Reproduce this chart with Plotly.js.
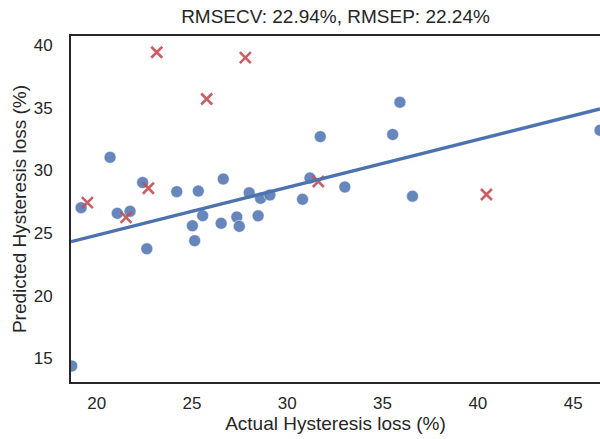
<!DOCTYPE html>
<html>
<head>
<meta charset="utf-8">
<script src="https://cdn.plot.ly/plotly-3.0.1.min.js"></script>
<style>html,body{margin:0;padding:0;background:#fff;}#chart{width:600px;height:439px;}</style>
</head>
<body>
<div id="chart"></div>
<script>
// Calibration (cross-validation) points: actual vs predicted hysteresis loss (%)
const calActual = [18.69, 19.18, 20.70, 21.08, 21.75, 22.41, 22.63, 24.20, 25.02, 25.14,
                   25.33, 25.56, 26.53, 26.64, 27.35, 27.48, 28.00, 28.47, 28.60, 29.09,
                   30.80, 31.19, 31.73, 33.02, 35.53, 35.91, 36.57, 46.41];
const calPredicted = [14.39, 27.02, 31.04, 26.57, 26.73, 29.03, 23.74, 28.30, 25.58, 24.39,
                      28.35, 26.38, 25.77, 29.31, 26.28, 25.53, 28.21, 26.37, 27.77, 28.03,
                      27.69, 29.39, 32.69, 28.67, 32.86, 35.43, 27.94, 33.20];
// Test (prediction) points
const testActual = [19.51, 21.54, 22.71, 23.15, 25.77, 27.80, 31.63, 40.45];
const testPredicted = [27.42, 26.25, 28.57, 39.42, 35.69, 38.99, 29.11, 28.07];
// Regression line (ends of the fitted line)
const fitX = [18.65, 46.41];
const fitY = [24.31, 34.90];
const titleText = 'RMSECV: 22.94%, RMSEP: 22.24%';
const xLabel = 'Actual Hysteresis loss (%)';
const yLabel = 'Predicted Hysteresis loss (%)';
const xTicks = [20, 25, 30, 35, 40, 45];
const yTicks = [15, 20, 25, 30, 35, 40];

const FONT = '"Liberation Sans", Arial, sans-serif';
const INK = '#262626';

const traces = [
  {
    x: calActual, y: calPredicted, type: 'scatter', mode: 'markers',
    marker: {size: 12, color: 'rgba(76,114,176,0.85)', line: {color: 'rgba(255,255,255,0.7)', width: 0.8}},
    hoverinfo: 'x+y', showlegend: false
  },
  {
    x: testActual, y: testPredicted, type: 'scatter', mode: 'markers',
    marker: {symbol: 'x-thin', size: 11, color: 'rgba(196,78,82,0.9)', line: {color: 'rgba(196,78,82,0.9)', width: 2.6}},
    hoverinfo: 'x+y', showlegend: false
  },
  {
    x: fitX, y: fitY, type: 'scatter', mode: 'lines',
    line: {color: '#4C72B0', width: 3.3},
    hoverinfo: 'skip', showlegend: false
  }
];

const layout = {
  width: 600, height: 439,
  margin: {l: 71, r: 0, t: 36, b: 57, pad: 0},
  paper_bgcolor: '#ffffff', plot_bgcolor: '#ffffff',
  font: {family: FONT, color: INK, size: 17},
  title: {
    text: titleText, font: {family: FONT, size: 19, color: INK},
    x: 0.5, xref: 'paper', xanchor: 'center',
    y: 1 - 16 / 439, yref: 'container', yanchor: 'middle'
  },
  xaxis: {
    range: [18.65, 46.41], tickvals: xTicks, ticktext: xTicks.map(String),
    showgrid: false, zeroline: false, ticks: '',
    showline: true, linecolor: INK, linewidth: 2, mirror: true,
    tickfont: {family: FONT, size: 17, color: INK}, ticklabelstandoff: 5,
    title: {text: xLabel, font: {family: FONT, size: 19, color: INK}, standoff: 4}
  },
  yaxis: {
    range: [13.11, 40.72], tickvals: yTicks, ticktext: yTicks.map(String),
    showgrid: false, zeroline: false, ticks: '',
    showline: true, linecolor: INK, linewidth: 2, mirror: false,
    tickfont: {family: FONT, size: 17, color: INK}, ticklabelstandoff: 13,
    title: {text: yLabel, font: {family: FONT, size: 19, color: INK}, standoff: 2}
  }
};

Plotly.newPlot('chart', traces, layout, {displayModeBar: false, staticPlot: true});
</script>
</body>
</html>
